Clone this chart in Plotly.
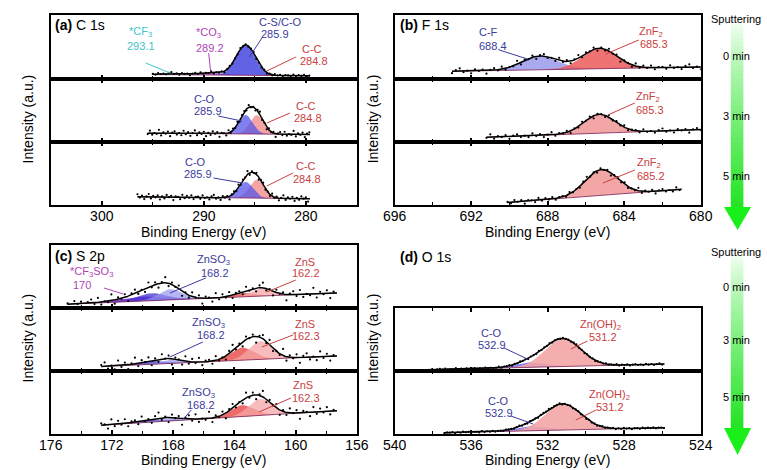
import numpy as np
import plotly.graph_objects as go

W, H = 767, 470
FONT = "Liberation Sans, Arial, sans-serif"

# ------------------------------------------------------------------
# DATA. Intensities are in fractions of each
# sub-panel height; peaks given as centre (eV), height, FWHM (eV).
# ------------------------------------------------------------------
# (a) C 1s
A0_RANGE = [295.0, 279.6]
A0_BASE = [0.07, 0.05]
A0_CENTERS = [293.1, 289.2, 285.9, 284.8]
A0_HEIGHTS = [0.02, 0.035, 0.47, 0.015]
A0_FWHM = [2.5, 3.0, 2.2, 1.6]

A3_RANGE = [295.5, 279.6]
A3_BASE = [0.14, 0.12]
A3_CENTERS = [284.8, 285.9]
A3_HEIGHTS = [0.30, 0.30]
A3_FWHM = [1.6, 1.6]

A5_RANGE = [296.5, 279.6]
A5_BASE = [0.13, 0.10]
A5_CENTERS = [284.8, 285.9]
A5_HEIGHTS = [0.29, 0.255]
A5_FWHM = [1.7, 1.7]

# (b) F 1s
B0_RANGE = [693.0, 679.8]
B0_BASE = [0.12, 0.19]
B0_CENTERS = [688.4, 685.3]
B0_HEIGHTS = [0.215, 0.32]
B0_FWHM = [2.2, 2.1]

B3_RANGE = [691.2, 679.8]
B3_BASE = [0.075, 0.20]
B3_CENTERS = [685.3]
B3_HEIGHTS = [0.30]
B3_FWHM = [1.9]

B5_RANGE = [690.1, 681.0]
B5_BASE = [0.04, 0.25]
B5_CENTERS = [685.2]
B5_HEIGHTS = [0.41]
B5_FWHM = [2.0]

# (c) S 2p
C0_RANGE = [174.9, 157.3]
C0_BASE = [0.06, 0.24]
C0_CENTERS = [170.0, 169.4, 168.2, 163.4, 162.2]
C0_HEIGHTS = [0.07, 0.12, 0.17, 0.06, 0.12]
C0_FWHM = [3.5, 2.2, 1.8, 1.6, 1.6]

C3_RANGE = [172.7, 157.3]
C3_BASE = [0.07, 0.24]
C3_CENTERS = [169.4, 168.2, 163.5, 162.3]
C3_HEIGHTS = [0.05, 0.06, 0.20, 0.29]
C3_FWHM = [2.0, 1.6, 1.8, 1.8]

C5_RANGE = [172.7, 157.3]
C5_BASE = [0.14, 0.37]
C5_CENTERS = [169.4, 168.2, 163.5, 162.3]
C5_HEIGHTS = [0.035, 0.04, 0.18, 0.26]
C5_FWHM = [2.2, 1.8, 1.8, 1.8]

# (d) O 1s  (0 min sub-panel is empty)
D3_RANGE = [538.2, 525.9]
D3_BASE = [0.02, 0.11]
D3_CENTERS = [532.9, 531.2]
D3_HEIGHTS = [0.08, 0.44]
D3_FWHM = [1.8, 2.2]

D5_RANGE = [537.4, 525.9]
D5_BASE = [0.02, 0.10]
D5_CENTERS = [532.9, 531.2]
D5_HEIGHTS = [0.07, 0.41]
D5_FWHM = [1.8, 2.2]

# hand-typed scatter of the measured points about the fit
RESID = [0.012, -0.020, 0.031, -0.008, 0.004, -0.027, 0.018, 0.041, -0.015, 0.006,
         -0.034, 0.022, -0.003, 0.015, -0.046, 0.009, 0.027, -0.012, 0.035, -0.021,
         0.002, -0.009, 0.048, -0.030, 0.014, -0.006, 0.024, -0.039, 0.011, 0.029,
         -0.017, 0.003, -0.025, 0.038, -0.011, 0.019, -0.032, 0.007, 0.044, -0.022,
         0.016, -0.004, 0.026, -0.036, 0.010, -0.019, 0.033, -0.001, 0.021, -0.043,
         0.013, 0.005, -0.028, 0.037, -0.014, 0.023, -0.007, 0.030, -0.024, 0.008]

# axis tick values
A_TICKS = [300, 290, 280]
B_TICKS = [696, 692, 688, 684, 680]
C_TICKS = [176, 172, 168, 164, 160, 156]
D_TICKS = [540, 536, 532, 528, 524]
SPUTTER_LABELS = ["0 min", "3 min", "5 min"]

# ------------------------------------------------------------------
# styles
# ------------------------------------------------------------------
CYAN_T, PURPLE_T, BLUE_T, RED_T = "#3cc3cc", "#b043b8", "#3b3b9e", "#c94040"
F_CYAN = "rgba(60,200,210,0.8)"
F_PURPLE_A = "rgba(170,60,190,0.7)"
F_BLUE_STRONG = "rgba(70,70,225,0.85)"
F_RED_A = "rgba(220,80,80,0.7)"
F_RED_L = "rgba(242,140,140,0.8)"
F_BLUE = "rgba(85,85,235,0.75)"
F_BLUE_L = "rgba(140,140,235,0.75)"
F_RED_S = "rgba(236,90,90,0.85)"
F_PINK = "rgba(240,150,150,0.85)"
F_PURPLE_C = "rgba(110,30,200,0.85)"
F_DBLUE_C = "rgba(70,50,210,0.75)"
F_LBLUE_C = "rgba(150,150,240,0.7)"
F_DRED_C = "rgba(232,70,70,0.8)"
F_LRED_C = "rgba(245,165,165,0.75)"
F_PINK_D = "rgba(243,165,165,0.9)"

LEFT, RIGHT = (40, 356), (395, 711)
TOP_ROWS = [(15, 79), (79, 142), (142, 205)]
BOT_ROWS = [(245, 308), (308, 371), (371, 434)]

PANELS = [
    (LEFT, TOP_ROWS, [305, 275], A_TICKS, 5, [
        (A0_RANGE, A0_BASE, A0_CENTERS, A0_HEIGHTS, A0_FWHM, [F_CYAN, F_PURPLE_A, F_BLUE_STRONG, F_RED_A], 0.014, 0.26, 0),
        (A3_RANGE, A3_BASE, A3_CENTERS, A3_HEIGHTS, A3_FWHM, [F_RED_L, F_BLUE], 0.034, 0.22, 17),
        (A5_RANGE, A5_BASE, A5_CENTERS, A5_HEIGHTS, A5_FWHM, [F_RED_L, F_BLUE], 0.032, 0.22, 33),
    ]),
    (RIGHT, TOP_ROWS, [696, 680], B_TICKS, 2, [
        (B0_RANGE, B0_BASE, B0_CENTERS, B0_HEIGHTS, B0_FWHM, [F_BLUE_L, F_RED_S], 0.032, 0.2, 5),
        (B3_RANGE, B3_BASE, B3_CENTERS, B3_HEIGHTS, B3_FWHM, [F_PINK], 0.028, 0.2, 21),
        (B5_RANGE, B5_BASE, B5_CENTERS, B5_HEIGHTS, B5_FWHM, [F_PINK], 0.028, 0.18, 44),
    ]),
    (LEFT, BOT_ROWS, [176, 156], C_TICKS, 2, [
        (C0_RANGE, C0_BASE, C0_CENTERS, C0_HEIGHTS, C0_FWHM, [F_PURPLE_C, F_DBLUE_C, F_LBLUE_C, F_DRED_C, F_LRED_C], 0.06, 0.22, 9),
        (C3_RANGE, C3_BASE, C3_CENTERS, C3_HEIGHTS, C3_FWHM, [F_DBLUE_C, F_LBLUE_C, F_DRED_C, F_LRED_C], 0.065, 0.22, 28),
        (C5_RANGE, C5_BASE, C5_CENTERS, C5_HEIGHTS, C5_FWHM, [F_DBLUE_C, F_LBLUE_C, F_DRED_C, F_LRED_C], 0.065, 0.22, 50),
    ]),
    (RIGHT, BOT_ROWS, [540, 524], D_TICKS, 2, [
        None,
        (D3_RANGE, D3_BASE, D3_CENTERS, D3_HEIGHTS, D3_FWHM, [F_BLUE, F_PINK_D], 0.009, 0.14, 12),
        (D5_RANGE, D5_BASE, D5_CENTERS, D5_HEIGHTS, D5_FWHM, [F_BLUE, F_PINK_D], 0.009, 0.14, 39),
    ]),
]


def gauss(x, c, h, w):
    return h * np.exp(-4 * np.log(2) * ((x - c) / w) ** 2)


fig = go.Figure()
layout = dict(width=W, height=H, margin=dict(l=0, r=0, t=0, b=0),
              paper_bgcolor="white", plot_bgcolor="white", showlegend=False,
              font=dict(family=FONT, color="black"))

k = 0
for col, rows, xr, ticks, mdt, subs in PANELS:
    for r, sub in enumerate(subs):
        k += 1
        xa = "x" if k == 1 else f"x{k}"
        ya = "y" if k == 1 else f"y{k}"
        y0, y1 = rows[r]
        bottom = (r == 2)
        layout["xaxis" if k == 1 else f"xaxis{k}"] = dict(
            domain=[col[0] / W, col[1] / W], anchor=ya, range=xr,
            tickmode="array", tickvals=ticks, ticktext=[str(t) for t in ticks],
            ticks="inside", ticklen=4, tickwidth=1.5, tickcolor="black",
            minor=dict(dtick=mdt, tick0=ticks[-1], ticks="inside", ticklen=3,
                       tickwidth=1.2, tickcolor="black"),
            showticklabels=bottom, tickfont=dict(size=14, family=FONT),
            ticklabelstandoff=-3,
            showline=True, linecolor="black", linewidth=1.5,
            mirror=True if r == 0 else "ticks",
            showgrid=False, zeroline=False)
        layout["yaxis" if k == 1 else f"yaxis{k}"] = dict(
            domain=[1 - y1 / H, 1 - y0 / H], anchor=xa, range=[0, 1],
            showticklabels=False, ticks="", showline=True, linecolor="black",
            linewidth=1.5, mirror=True, showgrid=False, zeroline=False)
        if sub is None:
            continue
        rng, base, cs, hs, ws, fills, noise, step, off = sub
        x = np.arange(rng[0], rng[1] - 1e-9, -0.05)
        bl = np.interp(x, [rng[1], rng[0]], [base[1], base[0]])
        env = bl.copy()
        for c, h, w, fc in zip(cs, hs, ws, fills):
            comp = gauss(x, c, h, w)
            env = env + comp
            m = comp > 0.002
            xs = x[m]
            fig.add_trace(go.Scatter(
                x=np.concatenate([xs, xs[::-1]]),
                y=np.concatenate([(bl + comp)[m], bl[m][::-1]]),
                fill="toself", fillcolor=fc, mode="lines", line=dict(width=0),
                xaxis=xa, yaxis=ya, hoverinfo="skip"))
        fig.add_trace(go.Scatter(x=x, y=bl, mode="lines",
                                 line=dict(color="rgba(130,40,90,0.85)", width=1),
                                 xaxis=xa, yaxis=ya))
        fig.add_trace(go.Scatter(x=x, y=env, mode="lines",
                                 line=dict(color="black", width=1.5),
                                 xaxis=xa, yaxis=ya))
        xd = np.arange(rng[0], rng[1], -step)
        envd = np.interp(xd, x[::-1], env[::-1])
        res = np.array([RESID[(i + off) % len(RESID)] for i in range(len(xd))])
        fig.add_trace(go.Scatter(x=xd, y=envd + res * noise / 0.03, mode="markers",
                                 marker=dict(size=2.2, color="black"),
                                 xaxis=xa, yaxis=ya))

fig.update_layout(**layout)

ann = []
shapes = []


def P(x, y):
    return x / W, 1 - y / H


def text(t, x, y, color="black", size=11, xanchor="center"):
    px_, py_ = P(x, y)
    ann.append(dict(text=t, x=px_, y=py_, xref="paper", yref="paper",
                    showarrow=False, xanchor=xanchor, yanchor="middle",
                    font=dict(size=size, color=color, family=FONT)))


def leader(x0, y0, x1, y1, color):
    a, b = P(x0, y0)
    c, d = P(x1, y1)
    shapes.append(dict(type="line", xref="paper", yref="paper", x0=a, y0=b,
                       x1=c, y1=d, line=dict(color=color, width=1)))


# panel titles
text("<b>(a)</b> C 1s", 42, 25, size=14, xanchor="left")
text("<b>(b)</b> F 1s", 398, 25, size=14, xanchor="left")
text("<b>(c)</b> S 2p", 42, 256, size=14, xanchor="left")
text("<b>(d)</b> O 1s", 398, 257, size=14, xanchor="left")

# axis titles
for xc, yc in [(198, 232), (553, 232), (198, 460), (553, 460)]:
    text("Binding Energy (eV)", xc, yc, size=14)
for xc, yc in [(17, 119), (373, 119), (17, 338), (373, 338)]:
    a, b = P(xc, yc)
    ann.append(dict(text="Intensity (a.u.)", x=a, y=b, xref="paper", yref="paper",
                    showarrow=False, textangle=-90, xanchor="center", yanchor="middle",
                    font=dict(size=14, family=FONT)))

# (a) labels
text("*CF<sub>3</sub>", 133, 32, CYAN_T); text("293.1", 133, 46, CYAN_T)
leader(138, 63, 163, 73, CYAN_T)
text("*CO<sub>3</sub>", 203, 33, PURPLE_T); text("289.2", 204, 48, PURPLE_T)
leader(203, 53, 205, 71, PURPLE_T)
text("C-S/C-O", 277, 22, BLUE_T); text("285.9", 271, 34, BLUE_T)
leader(258, 38, 245, 57, BLUE_T)
text("C-C", 310, 49, RED_T); text("284.8", 312, 61, RED_T)
leader(293, 57, 263, 71, RED_T)

text("C-O", 199, 99, BLUE_T); text("285.9", 202, 111, BLUE_T)
leader(213, 116, 237, 121, BLUE_T)
text("C-C", 303, 106, RED_T); text("284.8", 306, 118, RED_T)
leader(287, 113, 263, 123, RED_T)

text("C-O", 189, 162, BLUE_T); text("285.9", 192, 174, BLUE_T)
leader(208, 178, 238, 183, BLUE_T)
text("C-C", 304, 166, RED_T); text("284.8", 305, 179, RED_T)
leader(290, 173, 263, 186, RED_T)

# (b) labels
text("C-F", 492, 32, BLUE_T); text("688.4", 497, 46, BLUE_T)
leader(503, 50, 532, 59, BLUE_T)
text("ZnF<sub>2</sub>", 660, 32, RED_T); text("685.3", 663, 44, RED_T)
leader(647, 40, 613, 54, RED_T)
text("ZnF<sub>2</sub>", 657, 97, RED_T); text("685.3", 659, 110, RED_T)
leader(643, 103, 615, 115, RED_T)
text("ZnF<sub>2</sub>", 658, 163, RED_T); text("685.2", 660, 176, RED_T)
leader(643, 170, 610, 183, RED_T)

# (c) labels
text("*CF<sub>3</sub>SO<sub>3</sub>", 82, 272, PURPLE_T); text("170", 72, 285, PURPLE_T)
leader(95, 288, 115, 294, PURPLE_T)
text("ZnSO<sub>3</sub>", 208, 260, BLUE_T); text("168.2", 210, 273, BLUE_T)
leader(200, 278, 163, 293, BLUE_T)
text("ZnS", 302, 262, RED_T); text("162.2", 303, 273, RED_T)
leader(293, 280, 263, 292, RED_T)

text("ZnSO<sub>3</sub>", 203, 323, BLUE_T); text("168.2", 205, 335, BLUE_T)
leader(197, 342, 163, 357, BLUE_T)
text("ZnS", 302, 324, RED_T); text("162.3", 304, 336, RED_T)
leader(290, 335, 258, 347, RED_T)

text("ZnSO<sub>3</sub>", 193, 393, BLUE_T); text("168.2", 195, 405, BLUE_T)
leader(185, 410, 177, 419, BLUE_T)
text("ZnS", 300, 385, RED_T); text("162.3", 303, 398, RED_T)
leader(288, 398, 255, 412, RED_T)

# (d) labels
text("C-O", 495, 333, BLUE_T); text("532.9", 495, 345, BLUE_T)
leader(508, 348, 532, 359, BLUE_T)
text("Zn(OH)<sub>2</sub>", 608, 325, RED_T); text("531.2", 610, 337, RED_T)
leader(594, 341, 577, 349, RED_T)
text("C-O", 502, 401, BLUE_T); text("532.9", 503, 413, BLUE_T)
leader(515, 416, 538, 424, BLUE_T)
text("Zn(OH)<sub>2</sub>", 617, 395, RED_T); text("531.2", 617, 407, RED_T)
leader(603, 410, 582, 420, RED_T)

# sputtering arrows
for top, bot, head_end, lab_y, sp_y in [(24, 207, 230, [56, 116, 176], 19),
                                         (256, 428, 455, [287, 340, 397], 252)]:
    n = 40
    for i in range(n):
        t = (i + 0.5) / n
        f = t ** 0.8
        rr = int(245 + (35 - 245) * f)
        gg = int(255 + (228 - 255) * f)
        bb = int(245 + (35 - 245) * f)
        ya0 = top + (bot - top) * i / n
        ya1 = top + (bot - top) * (i + 1) / n + 0.6
        a0, b0 = P(742, ya0)
        a1, b1 = P(755, ya1)
        shapes.append(dict(type="rect", xref="paper", yref="paper", x0=a0, x1=a1,
                           y0=b1, y1=b0, fillcolor=f"rgb({rr},{gg},{bb})",
                           line=dict(width=0), layer="below"))
    p1 = P(735, bot); p2 = P(763, bot); p3 = P(749, head_end)
    shapes.append(dict(type="path", xref="paper", yref="paper",
                       path=f"M {p1[0]},{p1[1]} L {p2[0]},{p2[1]} L {p3[0]},{p3[1]} Z",
                       fillcolor="rgb(25,240,25)", line=dict(width=0), layer="below"))
    text("Sputtering", 719, sp_y, size=11, xanchor="left")
    for lab, yy in zip(SPUTTER_LABELS, lab_y):
        text(lab, 748, yy, size=11)

fig.update_layout(annotations=ann, shapes=shapes)
fig.write_html("out.html", config={"displayModeBar": False},
               post_script="document.body.style.margin='0px';")
